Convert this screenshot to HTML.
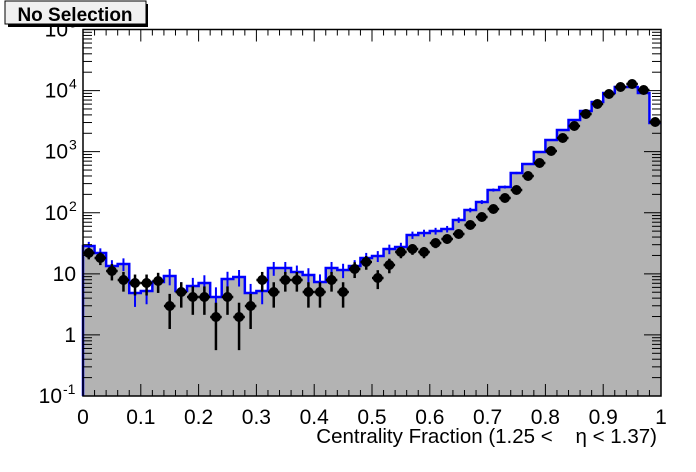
<!DOCTYPE html>
<html><head><meta charset="utf-8"><style>
html,body{margin:0;padding:0;background:#fff;width:696px;height:472px;overflow:hidden}
</style></head><body>
<svg id="s" width="696" height="472" xmlns="http://www.w3.org/2000/svg" font-family="Liberation Sans, sans-serif"></svg>
<script>
const S=document.getElementById('s');
const L=83,R=661,T=29.5,B=396,D=(B-T)/6;
const X=v=>L+(R-L)*v, Y=v=>B-D*(Math.log10(v)+1), V=y=>Math.pow(10,(B-y)/D-1);
let h='';
const dataY=[253,258,271,280,283,283,281,306,292,297,297,317,297,317,306,280,292,280,280,292,292,280,292,269,262,278,265,252,249,252,243,239,234,225,217,209,198,190,176,163,151,138,126,114,104,94,87,84,90,122];
const blueY=[246,253,266,264,293,291,282,276,291,286,283,297,279,277,293,291,268,268,272,275,282,268,270,266,258,256,249,247,235,233,231,229,220,210,202,190,187,173,164,152,140,130,120,111,102,93,87,87,93,123];
const bw=(R-L)/50;
let p=`M${L},${B}`;
blueY.forEach((y,i)=>{p+=` L${L+i*bw},${y} L${L+(i+1)*bw},${y}`});
p+=` L${R},${B} Z`;
h+=`<path d="${p}" fill="#b3b3b3"/>`;
let q=`M${L},${B}`;
blueY.forEach((y,i)=>{q+=` L${L+i*bw},${y} L${L+(i+1)*bw},${y}`});
h+=`<path d="${q}" fill="none" stroke="#0000ff" stroke-width="2.5"/>`;
blueY.forEach((y,i)=>{const v=V(y),e=Math.sqrt(v)*0.9,cx=L+(i+.5)*bw;
 const y1=Y(v+e),y2=v-e>0.12?Y(v-e):B;h+=`<line x1="${cx}" y1="${y1}" x2="${cx}" y2="${y2}" stroke="#0000ff" stroke-width="2"/>`});
dataY.forEach((y,i)=>{const v=V(y),e=Math.sqrt(v),cx=L+(i+.5)*bw;
 const y1=Y(v+e),y2=v-e>0.12?Y(v-e):B;
 h+=`<line x1="${cx}" y1="${y1}" x2="${cx}" y2="${Math.min(y2,B)}" stroke="#000" stroke-width="2.5"/>`;
 h+=`<line x1="${cx-bw/2}" y1="${y}" x2="${cx+bw/2}" y2="${y}" stroke="#000" stroke-width="2.5"/>`;
 h+=`<circle cx="${cx}" cy="${y}" r="5" fill="#000"/>`;});
h+=`<rect x="${L}" y="${T}" width="${R-L}" height="${B-T}" fill="none" stroke="#000" stroke-width="1.5"/>`;
for(let k=0;k<=50;k++){const x=L+k*bw,len=k%5==0?12:6;
 h+=`<line x1="${x}" y1="${B}" x2="${x}" y2="${B-len}" stroke="#000"/><line x1="${x}" y1="${T}" x2="${x}" y2="${T+len}" stroke="#000"/>`;}
const xl=['0','0.1','0.2','0.3','0.4','0.5','0.6','0.7','0.8','0.9','1'];
xl.forEach((t,i)=>{h+=`<text x="${X(i/10)}" y="424" font-size="21" text-anchor="middle">${t}</text>`});
for(let d=-1;d<5;d++){for(let m=1;m<10;m++){const y=Y(Math.pow(10,d)*m);const len=m==1?17:9;
 h+=`<line x1="${L}" y1="${y}" x2="${L+len}" y2="${y}" stroke="#000"/><line x1="${R}" y1="${y}" x2="${R-len}" y2="${y}" stroke="#000"/>`;}}
const yl=[[0.1,'10','-1'],[1,'1',''],[10,'10',''],[100,'10','2'],[1000,'10','3'],[10000,'10','4'],[100000,'10','5']];
yl.forEach(([v,b,e])=>{const y=Y(v)+7;
 if(e){h+=`<text x="${e=='-1'?62:68}" y="${y}" font-size="21" text-anchor="end">${b}</text><text x="${e=='-1'?63:69}" y="${y-9}" font-size="14">${e}</text>`;}
 else h+=`<text x="76" y="${y}" font-size="21" text-anchor="end">${b}</text>`;});
h+=`<text x="657" y="443" font-size="20.5" text-anchor="end">Centrality Fraction (1.25 &lt;&#160;&#160;&#160;&#160;η &lt; 1.37)</text>`;
h+=`<rect x="8" y="4" width="140" height="23" fill="#000"/><rect x="5" y="1" width="141" height="23" fill="#f0f0f0" stroke="#000" stroke-width="1"/>`;
h+=`<text x="75" y="21" font-size="19" font-weight="bold" text-anchor="middle">No Selection</text>`;
S.innerHTML=h;
</script>
</body></html>
